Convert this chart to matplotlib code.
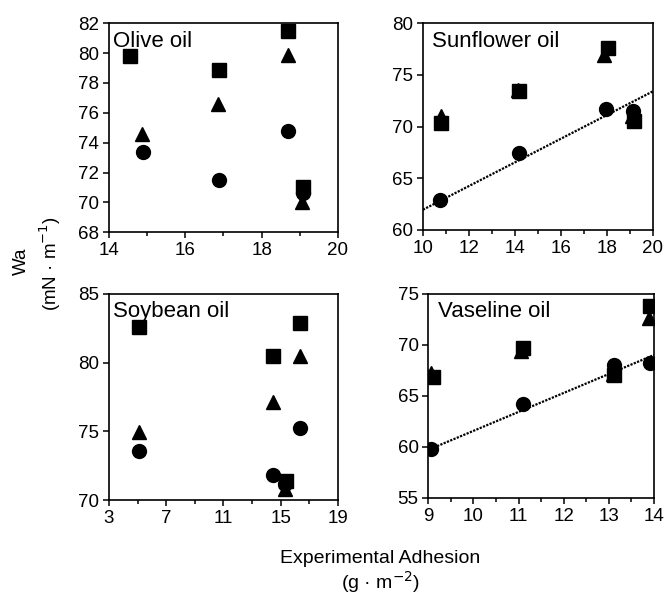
import numpy as np
import matplotlib
matplotlib.use('Agg')
from matplotlib import pyplot as plt

plt.rcParams['font.family'] = ['Liberation Sans', 'DejaVu Sans']

# olive oil
olive_x_sq = [14.55, 16.88, 18.7, 19.08]
olive_sq = [79.8, 78.9, 81.45, 71.0]
olive_x_tri = [14.87, 16.85, 18.7, 19.05]
olive_tri = [74.6, 76.6, 79.85, 70.0]
olive_x_cir = [14.9, 16.88, 18.7, 19.08]
olive_cir = [73.4, 71.5, 74.8, 70.6]
olive_xticks = [14, 16, 18, 20]
olive_yticks = [68, 70, 72, 74, 76, 78, 80, 82]

# sunflower oil
sun_x_sq = [10.8, 14.2, 18.04, 19.2]
sun_sq = [70.3, 73.45, 77.65, 70.5]
sun_x_tri = [10.8, 14.15, 17.87, 19.1]
sun_tri = [71.0, 73.5, 76.9, 71.0]
sun_x_cir = [10.75, 14.2, 17.97, 19.13]
sun_cir = [62.9, 67.4, 71.7, 71.55]
sun_fit_x = [10, 20]
sun_fit_y = [61.95, 73.4]
sun_xticks = [10, 12, 14, 16, 18, 20]
sun_yticks = [60, 65, 70, 75, 80]

# soybean oil
soy_x_sq = [5.09, 14.44, 15.34, 16.34]
soy_sq = [82.6, 80.45, 71.4, 82.85]
soy_x_tri = [5.09, 14.44, 15.3, 16.34]
soy_tri = [74.95, 77.15, 70.8, 80.45]
soy_x_cir = [5.09, 14.44, 15.3, 16.34]
soy_cir = [73.6, 71.85, 71.2, 75.25]
soy_xticks = [3, 7, 11, 15, 19]
soy_yticks = [70, 75, 80, 85]

# vaseline oil
vas_x_sq = [9.1, 11.1, 13.12, 13.9]
vas_sq = [66.8, 69.7, 67.0, 73.8]
vas_x_tri = [9.05, 11.05, 13.1, 13.88]
vas_tri = [67.2, 69.4, 67.1, 72.6]
vas_x_cir = [9.07, 11.1, 13.12, 13.9]
vas_cir = [59.75, 64.2, 68.05, 68.2]
vas_fit_x = [9.05, 14]
vas_fit_y = [59.8, 69.0]
vas_xticks = [9, 10, 11, 12, 13, 14]
vas_yticks = [55, 60, 65, 70, 75]

fig = plt.figure(figsize=(6.64, 5.97), dpi=100)

panels = [
    dict(rect=[0.164, 0.611, 0.345, 0.350], name='Olive oil', tx=0.02,
         xs=(olive_x_sq, olive_x_tri, olive_x_cir), ys=(olive_sq, olive_tri, olive_cir),
         xt=olive_xticks, yt=olive_yticks, fit=None),
    dict(rect=[0.637, 0.615, 0.346, 0.346], name='Sunflower oil', tx=0.04,
         xs=(sun_x_sq, sun_x_tri, sun_x_cir), ys=(sun_sq, sun_tri, sun_cir),
         xt=sun_xticks, yt=sun_yticks, fit=(sun_fit_x, sun_fit_y)),
    dict(rect=[0.164, 0.162, 0.345, 0.346], name='Soybean oil', tx=0.02,
         xs=(soy_x_sq, soy_x_tri, soy_x_cir), ys=(soy_sq, soy_tri, soy_cir),
         xt=soy_xticks, yt=soy_yticks, fit=None),
    dict(rect=[0.645, 0.166, 0.340, 0.342], name='Vaseline oil', tx=0.045,
         xs=(vas_x_sq, vas_x_tri, vas_x_cir), ys=(vas_sq, vas_tri, vas_cir),
         xt=vas_xticks, yt=vas_yticks, fit=(vas_fit_x, vas_fit_y)),
]

for p in panels:
    ax = fig.add_axes(p['rect'])
    if p['fit'] is not None:
        ax.plot(p['fit'][0], p['fit'][1], ls=(0, (1, 0.6)), color='black', lw=1.6, zorder=1)
    ax.plot(p['xs'][0], p['ys'][0], 's', color='black', ms=9.5, ls='none', zorder=3)
    ax.plot(p['xs'][1], p['ys'][1], '^', color='black', ms=10, ls='none', zorder=3)
    ax.plot(p['xs'][2], p['ys'][2], 'o', color='black', ms=10, ls='none', zorder=3)
    xt, yt = p['xt'], p['yt']
    ax.set_xlim(xt[0], xt[-1])
    ax.set_ylim(yt[0], yt[-1])
    ax.set_xticks(xt)
    ax.set_xticks([(a + b) / 2 for a, b in zip(xt[:-1], xt[1:])], minor=True)
    ax.set_yticks(yt)
    ax.tick_params(which='major', direction='out', length=4, width=1.1, labelsize=13.5, pad=3)
    ax.tick_params(which='minor', direction='out', length=3, width=1.1)
    for s in ax.spines.values():
        s.set_linewidth(1.2)
    ax.text(p['tx'], 0.965, p['name'], transform=ax.transAxes, ha='left', va='top', fontsize=16)

fig.text(0.033, 0.563, 'Wa', rotation=90, ha='center', va='center', fontsize=13.5)
fig.text(0.075, 0.559, '(mN · m$^{-1}$)', rotation=90, ha='center', va='center', fontsize=13.5)
fig.text(0.572, 0.065, 'Experimental Adhesion', ha='center', va='center', fontsize=14)
fig.text(0.573, 0.004, '(g · m$^{-2}$)', ha='center', va='bottom', fontsize=14)

fig.savefig('out.png', dpi=100)
